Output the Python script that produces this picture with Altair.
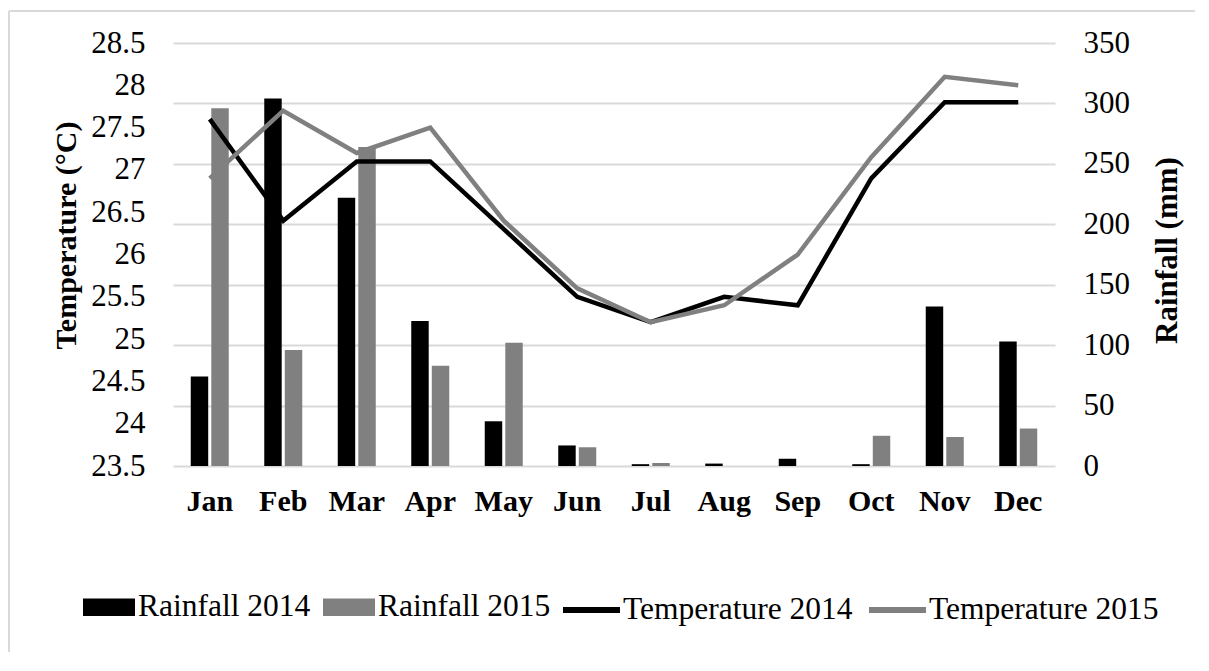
import altair as alt
import pandas as pd

months = ["Jan", "Feb", "Mar", "Apr", "May", "Jun", "Jul", "Aug", "Sep", "Oct", "Nov", "Dec"]
rain_2014 = [74, 304, 222, 120, 37, 17, 1.5, 2, 6, 1.5, 132, 103]
rain_2015 = [296, 96, 264, 83, 102, 15.5, 2.5, 0, 0, 25, 24, 31]
temp_2014 = [27.6, 26.4, 27.1, 27.1, 26.3, 25.5, 25.2, 25.5, 25.4, 26.9, 27.8, 27.8]
temp_2015 = [26.9, 27.7, 27.2, 27.5, 26.4, 25.6, 25.2, 25.4, 26.0, 27.15, 28.1, 28.0]
rain_series = ["Rainfall 2014", "Rainfall 2015"]
temp_series = ["Temperature 2014", "Temperature 2015"]
temp_ticks = [23.5, 24, 24.5, 25, 25.5, 26, 26.5, 27, 27.5, 28, 28.5]
rain_ticks = [0, 50, 100, 150, 200, 250, 300, 350]

FONT = "Liberation Serif"
BLACK = "#000000"
GRAY = "#808080"
FRAME = "#d9d9d9"

rain_df = pd.DataFrame({
    "month": months * 2,
    "rseries": [rain_series[0]] * 12 + [rain_series[1]] * 12,
    "rain": rain_2014 + rain_2015,
})
temp_df = pd.DataFrame({
    "month": months * 2,
    "tseries": [temp_series[0]] * 12 + [temp_series[1]] * 12,
    "temp": temp_2014 + temp_2015,
})

x_scale = alt.Scale(domain=months, paddingInner=0.483, paddingOuter=0.2415)
x_axis = alt.Axis(title=None, labelFont=FONT, labelFontSize=30, labelFontWeight="bold",
                  labelColor=BLACK, labelPadding=20, ticks=False, domain=False,
                  grid=False, labelAngle=0)

frame_df = pd.DataFrame({"d": [0]})
frame_left = alt.Chart(frame_df).mark_rule(stroke=FRAME, strokeWidth=2).encode(
    x=alt.value(-164), y=alt.value(-32), y2=alt.value(700)
)
frame_top = alt.Chart(frame_df).mark_rule(stroke=FRAME, strokeWidth=2).encode(
    y=alt.value(-32), x=alt.value(-164), x2=alt.value(1200)
)

bars = alt.Chart(rain_df).mark_bar().encode(
    x=alt.X("month:N", scale=x_scale, axis=x_axis),
    xOffset=alt.XOffset("rseries:N", scale=alt.Scale(domain=rain_series, paddingInner=0.15, paddingOuter=0)),
    y=alt.Y("rain:Q",
            scale=alt.Scale(domain=[0, 350], nice=False, zero=True),
            axis=alt.Axis(orient="right", values=rain_ticks, title="Rainfall (mm)",
                          grid=True, gridColor=FRAME, gridWidth=2,
                          domain=False, ticks=False, labelPadding=28,
                          labelFont=FONT, labelFontSize=31, labelColor=BLACK,
                          titleFont=FONT, titleFontSize=31, titleFontWeight="bold",
                          titleColor=BLACK, titleAngle=270, titleX=112, titleY=207,
                          titleAlign="center", titleBaseline="middle")),
    color=alt.Color("rseries:N",
                    scale=alt.Scale(domain=rain_series, range=[BLACK, GRAY]),
                    legend=alt.Legend(orient="none", legendX=-90, legendY=538,
                                      direction="horizontal", title=None, padding=0,
                                      symbolType="M-1,-0.34L1,-0.34L1,0.34L-1,0.34Z",
                                      symbolSize=2704, symbolStrokeWidth=0,
                                      labelFont=FONT, labelFontSize=31.5, labelColor=BLACK,
                                      labelOffset=3, columnPadding=12, labelLimit=500)),
)

lines = alt.Chart(temp_df).mark_line(strokeWidth=4.5).encode(
    x=alt.X("month:N", scale=x_scale, axis=x_axis, bandPosition=0.5),
    y=alt.Y("temp:Q",
            scale=alt.Scale(domain=[23.5, 28.5], nice=False, zero=False),
            axis=alt.Axis(orient="left", values=temp_ticks, format="~g",
                          title="Temperature (°C)", grid=False, domain=False, ticks=False,
                          labelPadding=28, labelFont=FONT, labelFontSize=31, labelColor=BLACK,
                          titleFont=FONT, titleFontSize=30, titleFontWeight="bold",
                          titleColor=BLACK, titleAngle=270, titleX=-107, titleY=192,
                          titleAlign="center", titleBaseline="middle")),
    stroke=alt.Stroke("tseries:N",
                      scale=alt.Scale(domain=temp_series, range=[BLACK, GRAY]),
                      legend=alt.Legend(orient="none", legendX=387, legendY=535.5,
                                        direction="horizontal", title=None, padding=0,
                                        symbolType="stroke", symbolSize=3249,
                                        symbolStrokeWidth=6,
                                        labelFont=FONT, labelFontSize=31.5, labelColor=BLACK,
                                        labelOffset=0, columnPadding=4, labelLimit=500)),
)

chart = alt.layer(frame_left, frame_top, bars, lines).resolve_scale(y="independent").properties(
    width=882, height=423,
    padding={"left": 165, "top": 35, "right": 140, "bottom": 186},
    autosize=alt.AutoSizeParams(type="none"),
).configure_view(stroke=None)

chart.save("out.html", embed_options={"renderer": "svg", "actions": False})
